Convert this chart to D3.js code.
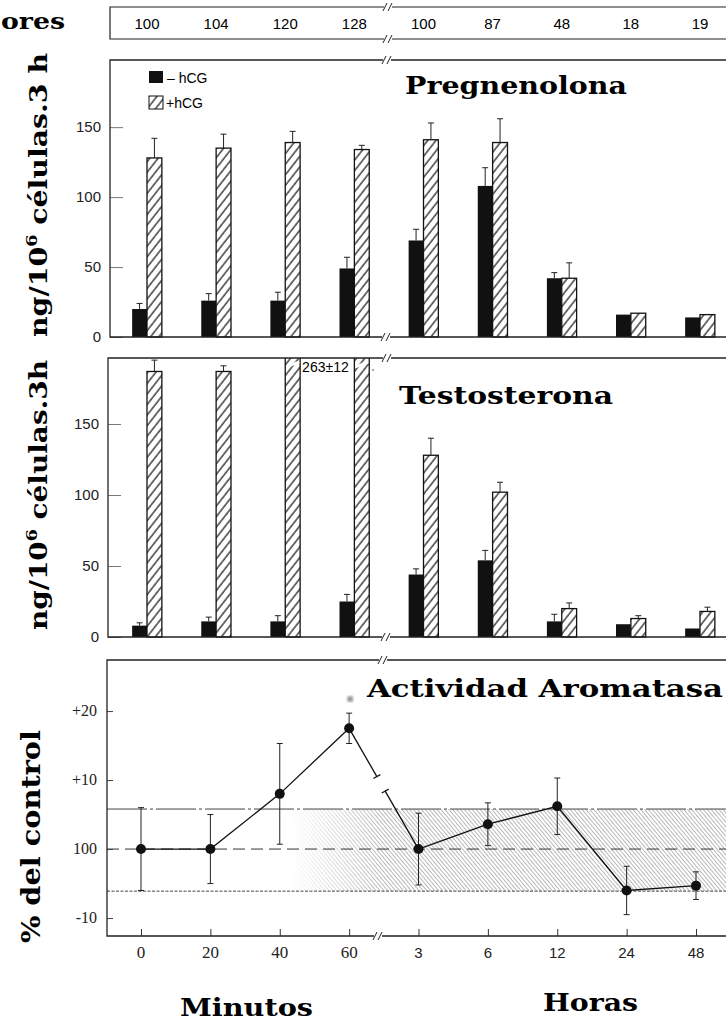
<!DOCTYPE html>
<html>
<head>
<meta charset="utf-8">
<script src="https://cdn.jsdelivr.net/npm/d3@7"></script>
<style>
  html, body { margin: 0; padding: 0; background: #fff; }
  svg { display: block; }
</style>
</head>
<body>
<svg id="chart" width="726" height="1022"></svg>
<script>
// Time points: four in minutes, five in hours
const timePoints = ["0", "20", "40", "60", "3", "6", "12", "24", "48"];
const stripValues = [100, 104, 120, 128, 100, 87, 48, 18, 19];

// Pregnenolone, ng/10^6 cells per 3 h
const pregNoHcg = [20, 26, 26, 49, 69, 108, 42, 16, 14];
const pregNoHcgErr = [4, 5, 6, 8, 8, 13, 4, 0, 0];
const pregHcg = [128, 135, 139, 134, 141, 139, 42, 17, 16];
const pregHcgErr = [14, 10, 8, 3, 12, 17, 11, 0, 0];

// Testosterone, ng/10^6 cells per 3 h
const testNoHcg = [8, 11, 11, 25, 44, 54, 11, 9, 6];
const testNoHcgErr = [2, 3, 4, 5, 4, 7, 5, 0, 0];
const testHcg = [187, 187, 263, 250, 128, 102, 20, 13, 18];
const testHcgErr = [8, 4, 12, 0, 12, 7, 4, 2, 3];

// Aromatase activity, change relative to control (100)
const aromatase = [0, 0, 8, 17.5, 0, 3.6, 6.2, -6, -5.3];
const aromataseErr = [6, 5, 7.3, 2.2, 5.2, 3.1, 4.1, 3.5, 2];
const controlBand = [-6.1, 5.8];

const barTicks = [0, 50, 100, 150];
const aromTicks = [-10, 0, 10, 20];

const svg = d3.select("#chart");
const W = 726;
const serifBold = "'DejaVu Serif', serif";
const narrow = "'Liberation Sans Narrow', 'Liberation Sans', Arial, sans-serif";

const defs = svg.append("defs");
// diagonal hatch for the +hCG bars
const hatch = defs.append("pattern")
  .attr("id", "hatch").attr("patternUnits", "userSpaceOnUse")
  .attr("width", 6.5).attr("height", 6.5)
  .attr("patternTransform", "rotate(38)");
hatch.append("rect").attr("width", 6.5).attr("height", 6.5).attr("fill", "#fff");
hatch.append("line").attr("x1", 1).attr("y1", 0).attr("x2", 1).attr("y2", 6.5)
  .attr("stroke", "#111").attr("stroke-width", 1.2);

// fine hatch for the control range band
const bandHatch = defs.append("pattern")
  .attr("id", "bandHatch").attr("patternUnits", "userSpaceOnUse")
  .attr("width", 3).attr("height", 3)
  .attr("patternTransform", "rotate(-40)");
bandHatch.append("line").attr("x1", 0.5).attr("y1", 0).attr("x2", 0.5).attr("y2", 3)
  .attr("stroke", "#8a8a8a").attr("stroke-width", 0.6);
const fade = defs.append("linearGradient").attr("id", "bandFade")
  .attr("gradientUnits", "userSpaceOnUse").attr("x1", 290).attr("x2", 380).attr("y1", 0).attr("y2", 0);
fade.append("stop").attr("offset", 0).attr("stop-color", "#000");
fade.append("stop").attr("offset", 1).attr("stop-color", "#fff");
defs.append("mask").attr("id", "bandMask")
  .append("rect").attr("x", 0).attr("y", 0).attr("width", W).attr("height", 1022).attr("fill", "url(#bandFade)");
defs.append("filter").attr("id", "soft")
  .append("feGaussianBlur").attr("stdDeviation", 1.4);

const xBars = d3.scalePoint().domain(timePoints).range([147, 700]);
const xLine = d3.scalePoint().domain(timePoints).range([141, 696]);
const barW = xBars.step() * 0.215;

// axis break: white gap with two slanted strokes
function axisBreak(g, x, y) {
  g.append("rect").attr("x", x - 4).attr("y", y - 2).attr("width", 8).attr("height", 4).attr("fill", "#fff");
  [-3, 2].forEach(dx => g.append("line")
    .attr("x1", x + dx - 2).attr("y1", y + 4).attr("x2", x + dx + 2).attr("y2", y - 4)
    .attr("stroke", "#222").attr("stroke-width", 1));
}

// ---- top strip with values ----
const strip = svg.append("g");
strip.append("text").attr("x", 1).attr("y", 29).text("ores")
  .attr("font-family", serifBold).attr("font-weight", "bold").attr("font-size", 22)
  .attr("textLength", 64).attr("lengthAdjust", "spacingAndGlyphs");
strip.append("path").attr("d", `M${W},7H110V39H${W}`)
  .attr("fill", "none").attr("stroke", "#222").attr("stroke-width", 1.2);
axisBreak(strip, 388, 7);
axisBreak(strip, 388, 39);
strip.selectAll("text.v").data(stripValues).join("text").attr("class", "v")
  .attr("x", (d, i) => xBars(timePoints[i])).attr("y", 29)
  .attr("text-anchor", "middle").attr("font-family", narrow).attr("font-size", 15)
  .text(d => d);

// ---- bar panels ----
function barPanel(cfg) {
  const g = svg.append("g");
  const y = d3.scaleLinear().domain([0, cfg.max]).range([cfg.bottom, cfg.top]);
  const clipId = "clip" + cfg.id;
  defs.append("clipPath").attr("id", clipId)
    .append("rect").attr("x", cfg.left).attr("y", cfg.top).attr("width", W - cfg.left).attr("height", cfg.bottom - cfg.top + 2);

  const yAxis = d3.axisRight(y).tickValues(barTicks).tickSize(13).tickFormat("");
  g.append("g").attr("transform", `translate(${cfg.left},0)`).call(yAxis)
    .call(a => a.select(".domain").remove())
    .call(a => a.selectAll("line").attr("stroke", "#555").attr("stroke-width", 0.8));
  g.selectAll("text.yt").data(barTicks).join("text").attr("class", "yt")
    .attr("x", cfg.left - 9).attr("y", d => y(d) + 5).attr("text-anchor", "end")
    .attr("font-family", narrow).attr("font-size", 15).attr("fill", "#222").text(d => d);

  const bars = g.append("g").attr("clip-path", `url(#${clipId})`);
  const rows = timePoints.map((t, i) => ({ t, i }));
  // -hCG (solid) bars
  bars.selectAll("rect.no").data(rows).join("rect").attr("class", "no")
    .attr("x", d => xBars(d.t) - barW).attr("width", barW)
    .attr("y", d => y(cfg.no[d.i])).attr("height", d => y(0) - y(cfg.no[d.i]))
    .attr("fill", "#111");
  // +hCG (hatched) bars
  bars.selectAll("rect.hcg").data(rows).join("rect").attr("class", "hcg")
    .attr("x", d => xBars(d.t)).attr("width", barW)
    .attr("y", d => y(cfg.hcg[d.i])).attr("height", d => y(0) - y(cfg.hcg[d.i]))
    .attr("fill", "url(#hatch)").attr("stroke", "#111").attr("stroke-width", 1.3);

  // upper error bars
  const errs = [];
  rows.forEach(d => {
    if (cfg.noErr[d.i] > 0) errs.push({ cx: xBars(d.t) - barW / 2, v: cfg.no[d.i], e: cfg.noErr[d.i] });
    if (cfg.hcgErr[d.i] > 0 && cfg.hcg[d.i] < cfg.max) errs.push({ cx: xBars(d.t) + barW / 2, v: cfg.hcg[d.i], e: cfg.hcgErr[d.i] });
  });
  const eg = g.selectAll("g.err").data(errs).join("g").attr("class", "err")
    .attr("stroke", "#222").attr("stroke-width", 1);
  eg.append("line").attr("x1", d => d.cx).attr("x2", d => d.cx)
    .attr("y1", d => y(d.v)).attr("y2", d => y(d.v + d.e));
  eg.append("line").attr("x1", d => d.cx - 3).attr("x2", d => d.cx + 3)
    .attr("y1", d => y(d.v + d.e)).attr("y2", d => y(d.v + d.e));

  // frame: left side, top and zero line with breaks
  g.append("path").attr("d", `M${W},${cfg.top}H${cfg.left}V${cfg.bottom}H${W}`)
    .attr("fill", "none").attr("stroke", "#222").attr("stroke-width", 1.3);
  axisBreak(g, 387, cfg.top);
  axisBreak(g, 386, cfg.bottom);

  // title
  g.append("text").attr("x", cfg.titleX).attr("y", cfg.titleY).text(cfg.title)
    .attr("font-family", serifBold).attr("font-weight", "bold").attr("font-size", 24)
    .attr("textLength", cfg.titleLen).attr("lengthAdjust", "spacingAndGlyphs");

  // rotated y label
  const lab = g.append("text")
    .attr("transform", `translate(${cfg.labX},${cfg.labY}) rotate(-90)`)
    .attr("font-family", serifBold).attr("font-weight", "bold").attr("font-size", 24)
    .attr("textLength", cfg.labLen).attr("lengthAdjust", "spacingAndGlyphs");
  lab.append("tspan").text("ng/10");
  lab.append("tspan").attr("font-size", 15).attr("dy", -10).text("6");
  lab.append("tspan").attr("dy", 10).text(" " + cfg.unit);
  return { g, y };
}

const p1 = barPanel({
  id: 1, left: 110, top: 60, bottom: 337, max: 198,
  no: pregNoHcg, noErr: pregNoHcgErr, hcg: pregHcg, hcgErr: pregHcgErr,
  title: "Pregnenolona", titleX: 405, titleY: 94, titleLen: 222,
  labX: 47, labY: 337, labLen: 284, unit: "células.3 h"
});

// legend
p1.g.append("rect").attr("x", 149).attr("y", 71).attr("width", 14).attr("height", 12).attr("fill", "#111");
p1.g.append("text").attr("x", 167).attr("y", 83).text("– hCG")
  .attr("font-family", narrow).attr("font-size", 14);
p1.g.append("rect").attr("x", 149).attr("y", 96).attr("width", 14).attr("height", 13)
  .attr("fill", "url(#hatch)").attr("stroke", "#111").attr("stroke-width", 1);
p1.g.append("text").attr("x", 166).attr("y", 108).text("+hCG")
  .attr("font-family", narrow).attr("font-size", 14);

const p2 = barPanel({
  id: 2, left: 108, top: 358, bottom: 637, max: 196.5,
  no: testNoHcg, noErr: testNoHcgErr, hcg: testHcg, hcgErr: testHcgErr,
  title: "Testosterona", titleX: 399, titleY: 404, titleLen: 214,
  labX: 47, labY: 630, labLen: 270, unit: "células.3h"
});

// off-scale bars: break marks at the top and the stated value
[timePoints[2], timePoints[3]].forEach(t => {
  p2.g.append("line").attr("x1", xBars(t) + 1).attr("x2", xBars(t) + barW - 1)
    .attr("y1", 367).attr("y2", 362).attr("stroke", "#fff").attr("stroke-width", 2.5);
});
p2.g.append("text").attr("x", xBars(timePoints[2]) + barW + 2).attr("y", 372)
  .attr("font-family", narrow).attr("font-size", 14)
  .text(`${testHcg[2]}±${testHcgErr[2]}`);
p2.g.append("circle").attr("cx", 373).attr("cy", 370).attr("r", 0.8).attr("fill", "#444");

// ---- aromatase activity panel ----
const p3 = svg.append("g");
const top3 = 660, bottom3 = 936, left3 = 107;
const y3 = d3.scaleLinear().domain([-12.6, 27.4]).range([bottom3, top3]);

// control range band
p3.append("rect").attr("x", left3).attr("width", W - left3)
  .attr("y", y3(controlBand[1])).attr("height", y3(controlBand[0]) - y3(controlBand[1]))
  .attr("fill", "url(#bandHatch)").attr("mask", "url(#bandMask)");
p3.append("line").attr("x1", left3).attr("x2", W).attr("y1", y3(controlBand[1])).attr("y2", y3(controlBand[1]))
  .attr("stroke", "#444").attr("stroke-width", 1).attr("stroke-dasharray", "40,3,3,3");
p3.append("line").attr("x1", left3).attr("x2", W).attr("y1", y3(controlBand[0])).attr("y2", y3(controlBand[0]))
  .attr("stroke", "#444").attr("stroke-width", 1).attr("stroke-dasharray", "3,1.5");
p3.append("line").attr("x1", left3).attr("x2", W).attr("y1", y3(0)).attr("y2", y3(0))
  .attr("stroke", "#333").attr("stroke-width", 1).attr("stroke-dasharray", "12,6");

// y ticks
p3.append("g").attr("transform", `translate(${left3},0)`)
  .call(d3.axisRight(y3).tickValues(aromTicks).tickSize(6).tickFormat(""))
  .call(a => a.select(".domain").remove())
  .call(a => a.selectAll("line").attr("stroke", "#444"));
p3.selectAll("text.yt").data(aromTicks).join("text").attr("class", "yt")
  .attr("x", 97).attr("y", d => y3(d) + 5).attr("text-anchor", "end")
  .attr("font-family", "'Liberation Serif', serif").attr("font-size", 16).attr("fill", "#222")
  .text(d => d === 0 ? "100" : (d > 0 ? "+" + d : "-" + Math.abs(d)));

// x ticks and labels
p3.append("g").attr("transform", `translate(0,${bottom3})`)
  .call(d3.axisTop(xLine).tickSize(7).tickFormat(""))
  .call(a => a.select(".domain").remove())
  .call(a => a.selectAll("line").attr("stroke", "#333"));
p3.selectAll("text.xt").data(timePoints).join("text").attr("class", "xt")
  .attr("x", d => xLine(d)).attr("y", 958).attr("text-anchor", "middle")
  .attr("font-family", (d, i) => i < 4 ? "'Liberation Serif', serif" : narrow)
  .attr("font-size", (d, i) => i < 4 ? 17 : 15).attr("fill", "#222")
  .text(d => d);

// frame
p3.append("path").attr("d", `M${W},${top3}H${left3}V${bottom3}H${W}`)
  .attr("fill", "none").attr("stroke", "#222").attr("stroke-width", 1.3);
axisBreak(p3, 383, top3);
axisBreak(p3, 378, bottom3);

// connecting line, broken between minutes and hours
const pts = timePoints.map((t, i) => [xLine(t), y3(aromatase[i])]);
const line = d3.line();
p3.append("path").attr("d", line(pts.slice(0, 4))).attr("fill", "none").attr("stroke", "#111").attr("stroke-width", 1.3);
p3.append("path").attr("d", line(pts.slice(4))).attr("fill", "none").attr("stroke", "#111").attr("stroke-width", 1.3);
{
  const [a, b] = [pts[3], pts[4]];
  const lerp = t => [a[0] + (b[0] - a[0]) * t, a[1] + (b[1] - a[1]) * t];
  const t1 = 0.4, t2 = 0.52;
  const p1s = lerp(t1), p2s = lerp(t2);
  p3.append("path").attr("d", line([a, p1s])).attr("stroke", "#111").attr("stroke-width", 1.3);
  p3.append("path").attr("d", line([p2s, b])).attr("stroke", "#111").attr("stroke-width", 1.3);
  const dx = b[0] - a[0], dy = b[1] - a[1], len = Math.hypot(dx, dy);
  const nx = -dy / len * 4, ny = dx / len * 4;
  [p1s, p2s].forEach(p => p3.append("line")
    .attr("x1", p[0] - nx).attr("y1", p[1] - ny).attr("x2", p[0] + nx).attr("y2", p[1] + ny)
    .attr("stroke", "#111").attr("stroke-width", 1.2));
}

// error bars and points
const e3 = p3.selectAll("g.err").data(timePoints.map((t, i) => ({ t, i }))).join("g")
  .attr("class", "err").attr("stroke", "#222").attr("stroke-width", 1);
e3.append("line").attr("x1", d => xLine(d.t)).attr("x2", d => xLine(d.t))
  .attr("y1", d => y3(aromatase[d.i] + aromataseErr[d.i])).attr("y2", d => y3(aromatase[d.i] - aromataseErr[d.i]));
[1, -1].forEach(s => e3.append("line")
  .attr("x1", d => xLine(d.t) - 3).attr("x2", d => xLine(d.t) + 3)
  .attr("y1", d => y3(aromatase[d.i] + s * aromataseErr[d.i]))
  .attr("y2", d => y3(aromatase[d.i] + s * aromataseErr[d.i])));
p3.selectAll("circle.pt").data(pts).join("circle").attr("class", "pt")
  .attr("cx", d => d[0]).attr("cy", d => d[1]).attr("r", 5).attr("fill", "#111");

// significance mark above the 60 min point
p3.append("circle").attr("cx", xLine("60") + 1).attr("cy", 699).attr("r", 3)
  .attr("fill", "#888").attr("filter", "url(#soft)");

p3.append("text").attr("x", 367).attr("y", 697).text("Actividad Aromatasa")
  .attr("font-family", serifBold).attr("font-weight", "bold").attr("font-size", 24)
  .attr("textLength", 356).attr("lengthAdjust", "spacingAndGlyphs");
p3.append("text")
  .attr("transform", "translate(40,943) rotate(-90)")
  .attr("font-family", serifBold).attr("font-weight", "bold").attr("font-size", 26)
  .attr("textLength", 213).attr("lengthAdjust", "spacingAndGlyphs")
  .text("% del control");

svg.append("text").attr("x", 180).attr("y", 1016).text("Minutos")
  .attr("font-family", serifBold).attr("font-weight", "bold").attr("font-size", 25)
  .attr("textLength", 133).attr("lengthAdjust", "spacingAndGlyphs");
svg.append("text").attr("x", 543).attr("y", 1011).text("Horas")
  .attr("font-family", serifBold).attr("font-weight", "bold").attr("font-size", 25)
  .attr("textLength", 95).attr("lengthAdjust", "spacingAndGlyphs");
</script>
</body>
</html>
